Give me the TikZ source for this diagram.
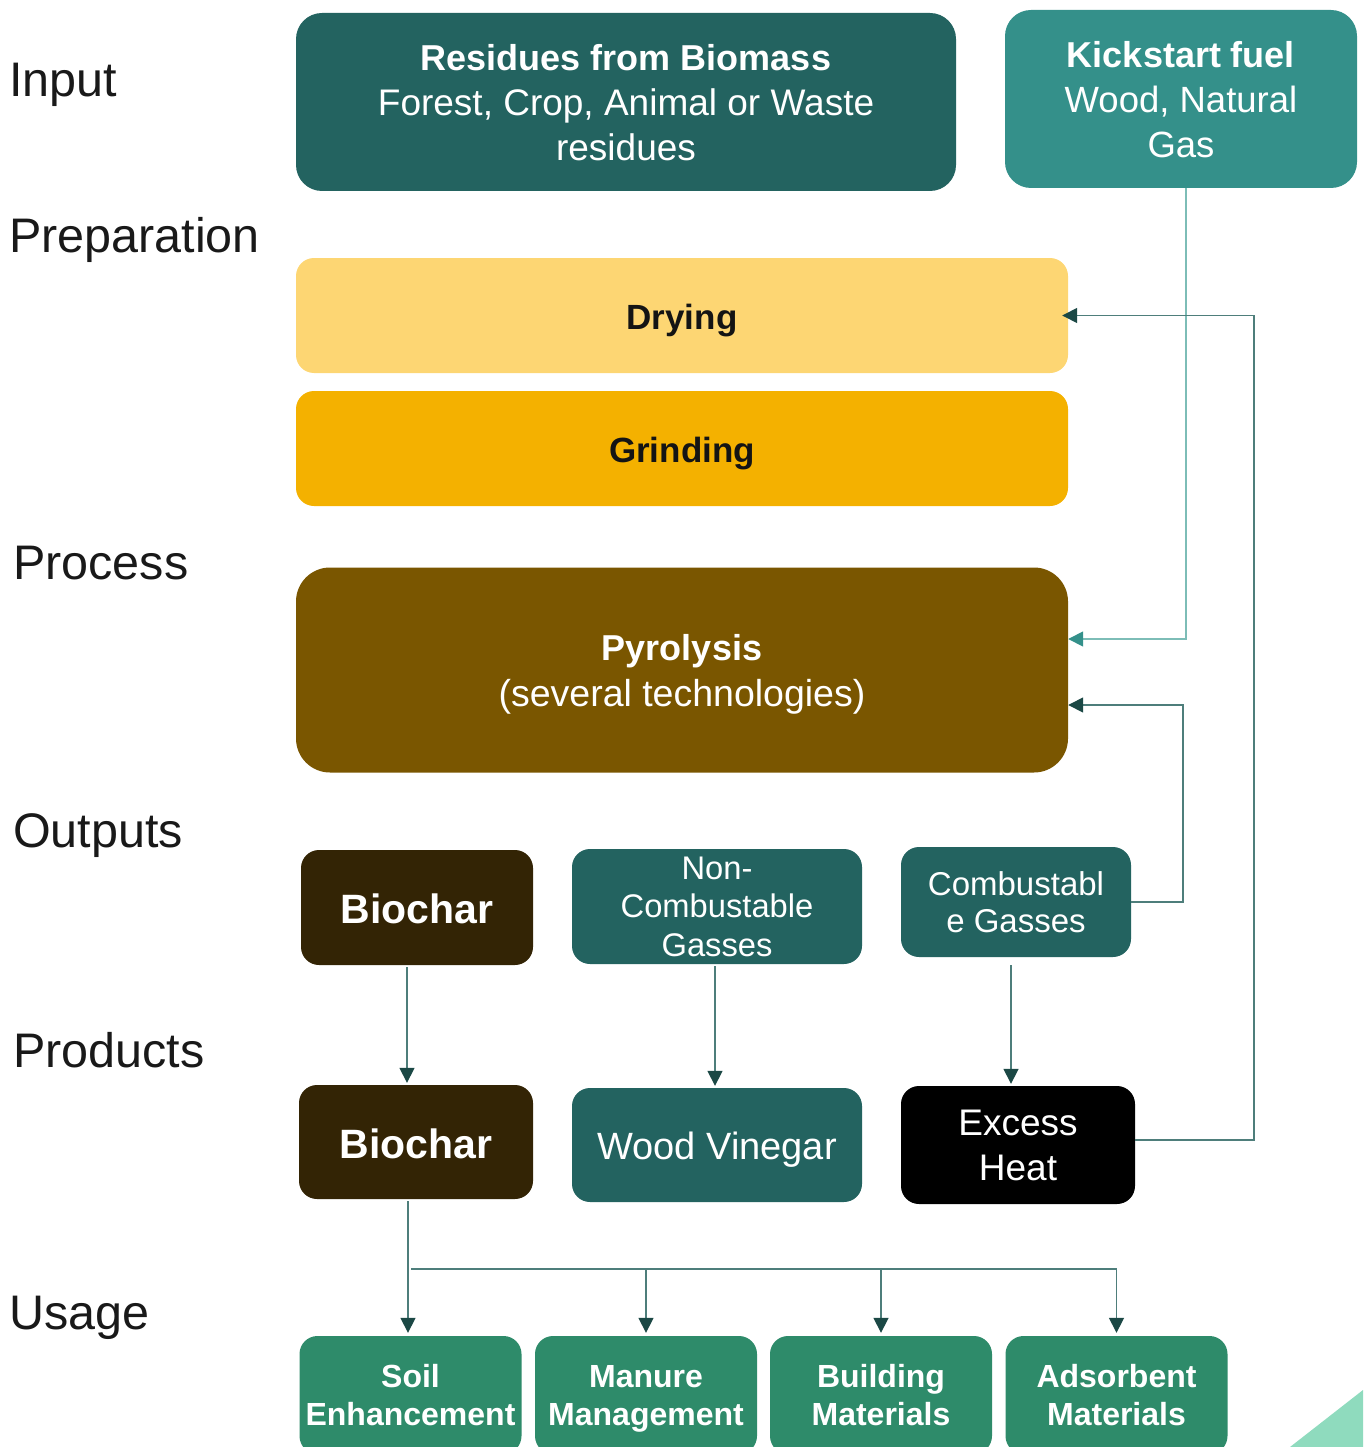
\documentclass[tikz,border=0pt]{standalone}
\usepackage{fontspec}
\setmainfont{Liberation Sans}
\usetikzlibrary{arrows.meta}
\definecolor{mydark}{RGB}{35,99,96}
\definecolor{myteal}{RGB}{52,144,138}
\definecolor{mylightteal}{RGB}{125,189,183}
\definecolor{myyellow}{RGB}{253,214,115}
\definecolor{myorange}{RGB}{244,177,0}
\definecolor{mybrown}{RGB}{122,86,0}
\definecolor{mychar}{RGB}{51,36,5}
\definecolor{mygreen}{RGB}{46,139,106}
\definecolor{mymint}{RGB}{143,219,190}
\definecolor{myline}{RGB}{78,126,123}
\definecolor{mytip}{RGB}{27,72,69}

% bold heading line inside a box
\newcommand{\boxhead}[1]{{\fontsize{36}{45}\selectfont\bfseries #1}}

\tikzset{
	box/.style={rounded corners=18pt, inner sep=0pt, align=center, text=white,
		font=\fontsize{37}{45}\selectfont, text depth=-9pt},
	onebox/.style={box, text depth=,
		execute at begin node={\rule{0pt}{1em}},
		execute at end node={\rule[-0.22em]{0pt}{0.22em}}},
	lbl/.style={anchor=base west, inner sep=0pt, text=black!90,
		font=\fontsize{48.5}{52}\selectfont},
	flow/.style={myline, line width=1.6pt,
		-{Triangle[length=15pt,width=15pt,color=mytip]}},
}

\begin{document}
\begin{tikzpicture}[x=1pt,y=-1pt]
	\useasboundingbox (0,0) rectangle (1363,1447);
	
	%Row labels
	\node[lbl] (lin) at (9,97) {Input};
	\node[lbl] (lprep) at (9,253) {Preparation};
	\node[lbl] (lproc) at (13,579) {Process};
	\node[lbl] (lout) at (13,847) {Outputs};
	\node[lbl] (lprod) at (13,1067) {Products};
	\node[lbl] (luse) at (9,1329) {Usage};
	
	%Input
	\node[box, fill=mydark, rounded corners=26pt, minimum width=660pt, minimum height=178pt]
		(resid) at (626,102) {\boxhead{Residues from Biomass}\\Forest, Crop, Animal or Waste\\residues};
	\node[box, fill=myteal, rounded corners=26pt, minimum width=352pt, minimum height=178pt,
		font=\fontsize{36.5}{45}\selectfont] (kick) at (1181,99) {\boxhead{Kickstart fuel}\\Wood, Natural\\Gas};
	
	%Preparation and process
	\node[onebox, fill=myyellow, text=black!92, minimum width=772pt, minimum height=115pt,
		font=\fontsize{35}{42}\selectfont\bfseries] (dry) at (682,315.5) {Drying};
	\node[onebox, fill=myorange, text=black!92, minimum width=772pt, minimum height=115pt,
		font=\fontsize{35}{42}\selectfont\bfseries] (grind) at (682,448.5) {Grinding};
	\node[box, fill=mybrown, rounded corners=34pt, minimum width=772pt, minimum height=205pt,
		font=\fontsize{37.5}{46}\selectfont] (pyro) at (682,670) {\boxhead{Pyrolysis}\\(several technologies)};
	
	%Outputs
	\node[onebox, fill=mychar, minimum width=232pt, minimum height=115pt,
		font=\fontsize{41}{46}\selectfont\bfseries] (bcout) at (417,907.5) {Biochar};
	\node[box, fill=mydark, minimum width=290pt, minimum height=115pt,
		font=\fontsize{32.7}{38.5}\selectfont] (ncg) at (717,906.5) {Non-\\Combustable\\Gasses};
	\node[box, fill=mydark, minimum width=230pt, minimum height=110pt,
		font=\fontsize{33}{37}\selectfont] (cg) at (1016,902) {Combustabl\\e Gasses};
	
	%Products
	\node[onebox, fill=mychar, minimum width=234pt, minimum height=114pt,
		font=\fontsize{41}{46}\selectfont\bfseries] (bcprod) at (416,1142) {Biochar};
	\node[onebox, fill=mydark, minimum width=290pt, minimum height=114pt,
		font=\fontsize{38}{45}\selectfont] (vin) at (717,1145) {Wood Vinegar};
	\node[box, fill=black, minimum width=234pt, minimum height=118pt,
		font=\fontsize{37}{45}\selectfont] (heat) at (1018,1145) {Excess\\Heat};
	
	%Usage
	\tikzset{use/.style={box, fill=mygreen, minimum width=222pt, minimum height=118pt,
		text depth=-2pt, font=\fontsize{32}{38}\selectfont\bfseries}}
	\node[use] (soil) at (410.5,1395) {Soil\\Enhancement};
	\node[use] (manure) at (646,1395) {Manure\\Management};
	\node[use] (build) at (881,1395) {Building\\Materials};
	\node[use] (adsorb) at (1116.5,1395) {Adsorbent\\Materials};
	
	%Feedback loops
	\draw[flow, mylightteal, -{Triangle[length=15pt,width=15pt,color=myteal]}]
		([xshift=5pt]kick.south) |- ([yshift=31pt]pyro.east);
	\draw[flow] (cg.east) -- ++(52,0) |- ([yshift=-35pt]pyro.east);
	\draw[flow] ([yshift=5pt]heat.east) -- ++(119,0) |- ([xshift=-6pt]dry.east);
	
	%Outputs to products
	\draw[flow] ([xshift=-10pt,yshift=-2pt]bcout.south) -- ([xshift=-9pt,yshift=2pt]bcprod.north);
	\draw[flow] ([xshift=-2pt,yshift=-2pt]ncg.south) -- ([xshift=-2pt,yshift=2pt]vin.north);
	\draw[flow] ([xshift=-5pt,yshift=-8pt]cg.south) -- ([xshift=-7pt,yshift=2pt]heat.north);
	
	%Biochar usage
	\coordinate (fork) at (411,1269);
	\draw[flow] ([xshift=-8pt,yshift=-2pt]bcprod.south) -- ([xshift=-2.5pt,yshift=3pt]soil.north);
	\draw[flow] (fork) -| ([yshift=3pt]adsorb.north);
	\draw[flow] (fork -| manure.north) -- ([yshift=3pt]manure.north);
	\draw[flow] (fork -| build.north) -- ([yshift=3pt]build.north);
	
	\fill[mymint] (1290,1447) -- (1363,1390) -- (1363,1447) -- cycle;
\end{tikzpicture}
\end{document}
